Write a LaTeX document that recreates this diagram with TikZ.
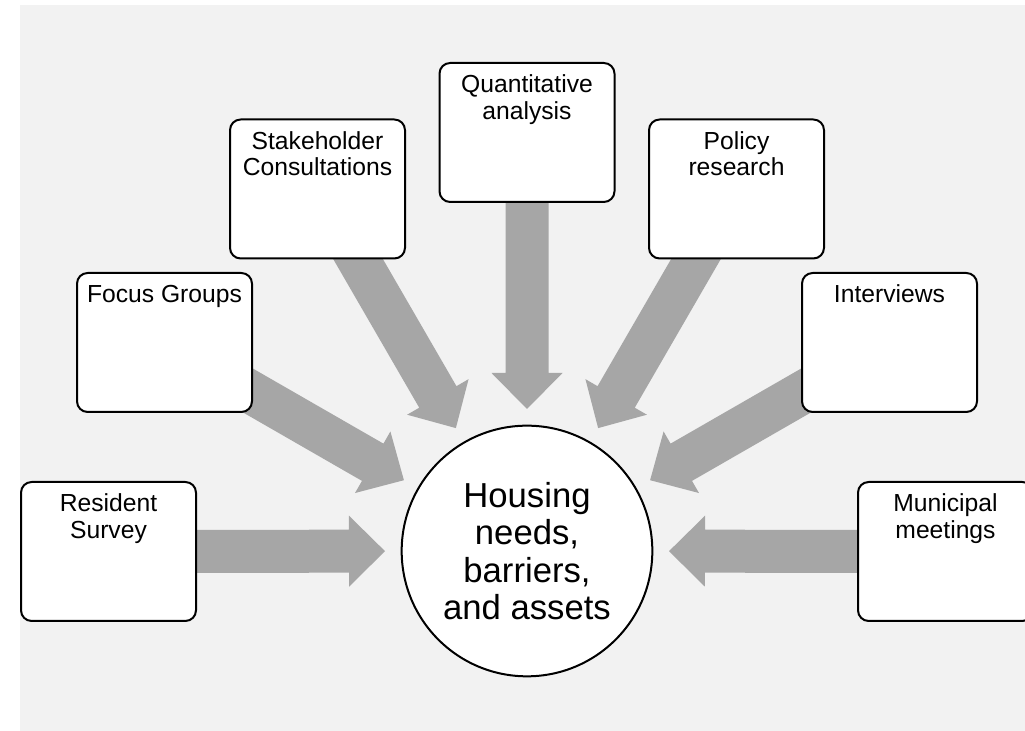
\documentclass[tikz,border=0pt]{standalone}
\usepackage{fontspec}
\setmainfont{Liberation Sans}
\usetikzlibrary{calc}
\pgfdeclarelayer{back}
\pgfdeclarelayer{links}
\pgfsetlayers{back,links,main}
\definecolor{panel}{HTML}{F2F2F2}
\definecolor{flowgray}{HTML}{A6A6A6}
\tikzset{
  source/.style={draw=black, fill=white, line width=1.5pt, rounded corners=8pt,
    minimum width=131.25pt, minimum height=104.25pt, inner sep=0pt},
  sourcetext/.style={anchor=north, inner sep=0pt, align=center,
    font=\fontsize{18.5pt}{20pt}\selectfont},
  hubnode/.style={draw=black, fill=white, line width=1.5pt, circle,
    minimum size=188pt, inner sep=0pt, align=center,
    font=\fontsize{26pt}{28pt}\selectfont},
  flow/.style={fill=flowgray}
}
\begin{document}
\begin{tikzpicture}[x=0.75pt, y=0.75pt]
  \useasboundingbox (0,0) rectangle (1025,731);
  \clip (0,0) rectangle (1025,731);

  % panel behind everything
  \begin{pgfonlayer}{back}
    \fill[panel] (20,0) rectangle (1025,726);
  \end{pgfonlayer}

  % central outcome
  \node[hubnode] (hub) at (527,180) {Housing\\needs,\\barriers,\\and assets};

  % the seven sources of evidence
  \node[source] (res) at (108.5,179.5) {};
  \node[source] (foc) at (164.5,388.5) {};
  \node[source] (stk) at (317.5,542) {};
  \node[source] (qnt) at (527,598.5) {};
  \node[source] (pol) at (736.5,542) {};
  \node[source] (itv) at (889.5,388.5) {};
  \node[source] (mun) at (945.5,179.5) {};

  \node[sourcetext] (res-t) at ([yshift=-9.4pt]res.north) {Resident\\Survey};
  \node[sourcetext] (foc-t) at ([yshift=-9.4pt]foc.north) {Focus Groups};
  \node[sourcetext] (stk-t) at ([yshift=-9.4pt]stk.north) {Stakeholder\\Consultations};
  \node[sourcetext] (qnt-t) at ([yshift=-9.4pt]qnt.north) {Quantitative\\analysis};
  \node[sourcetext] (pol-t) at ([yshift=-9.4pt]pol.north) {Policy\\research};
  \node[sourcetext] (itv-t) at ([yshift=-9.4pt]itv.north) {Interviews};
  \node[sourcetext] (mun-t) at ([yshift=-9.4pt]mun.north) {Municipal\\meetings};

  % broad block arrows from each source toward the hub
  \begin{pgfonlayer}{links}
    \foreach \b in {res,foc,stk,qnt,pol,itv,mun}{
      \pgfmathanglebetweenpoints{\pgfpointanchor{hub}{center}}{\pgfpointanchor{\b}{center}}
      \let\ang\pgfmathresult
      \begin{scope}[shift={(hub.center)}, rotate=\ang]
        \fill[flow] (142,0) -- (178,35.5) -- (178,21.5) -- (400,21.5)
          -- (400,-21.5) -- (178,-21.5) -- (178,-35.5) -- cycle;
      \end{scope}
    }
  \end{pgfonlayer}
\end{tikzpicture}
\end{document}
